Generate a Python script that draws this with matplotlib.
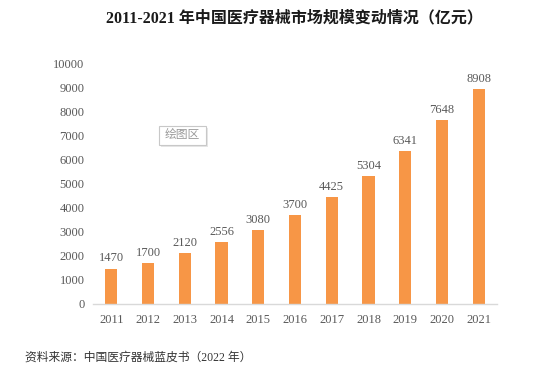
import matplotlib
matplotlib.use("Agg")
import matplotlib.pyplot as plt
from matplotlib.patches import FancyBboxPatch

plt.rcParams['font.family'] = ['Liberation Serif', 'Noto Sans CJK SC', 'DejaVu Sans']

# data
years = ['2011', '2012', '2013', '2014', '2015', '2016',
         '2017', '2018', '2019', '2020', '2021']
market_size = [1470, 1700, 2120, 2556, 3080, 3700, 4425, 5304, 6341, 7648, 8908]
y_ticks = [0, 1000, 2000, 3000, 4000, 5000, 6000, 7000, 8000, 9000, 10000]

title = '2011-2021 年中国医疗器械市场规模变动情况（亿元）'
source = '资料来源：中国医疗器械蓝皮书（2022 年）'

W, H = 534, 370
fig = plt.figure(figsize=(W / 100, H / 100), dpi=100)
ax = fig.add_axes([93 / W, (H - 304) / H, (497 - 93) / W, (304 - 63) / H])

bar_color = '#F79646'
text_gray = '#595959'

x = range(len(years))
bars = ax.bar(x, market_size, width=0.33, color=bar_color, zorder=2)

for rect, v in zip(bars, market_size):
    ax.annotate(f'{v}', (rect.get_x() + rect.get_width() / 2, rect.get_height()),
                xytext=(0, 3), textcoords='offset points',
                ha='center', va='bottom', fontsize=9, color=text_gray)

ax.set_xlim(-0.5, len(years) - 0.5)
ax.set_ylim(0, 10000)
ax.set_xticks(list(x))
ax.set_xticklabels(years)
ax.set_yticks(y_ticks)
ax.tick_params(axis='both', length=0, labelsize=9, labelcolor=text_gray)
ax.tick_params(axis='x', pad=7)
ax.tick_params(axis='y', pad=6)

for s in ['top', 'right', 'left']:
    ax.spines[s].set_visible(False)
ax.spines['bottom'].set_color('#D9D9D9')
ax.spines['bottom'].set_linewidth(1.0)

# "绘图区" hover tag left over from the chart editor
shadow = FancyBboxPatch((161 / W, 1 - 147 / H), 47 / W, 19 / H,
                        boxstyle='square,pad=0', transform=fig.transFigure,
                        facecolor='#E6E6E6', edgecolor='none', zorder=5)
box = FancyBboxPatch((159 / W, 1 - 145 / H), 47 / W, 19 / H,
                     boxstyle='square,pad=0', transform=fig.transFigure,
                     facecolor='white', edgecolor='#C8C8C8', linewidth=0.8, zorder=6)
fig.patches.extend([shadow, box])
fig.text(182.5 / W, 1 - 135.5 / H, '绘图区', ha='center', va='center',
         fontsize=8.5, color='#9A9A9A', zorder=7)

fig.text(294 / W, 1 - 18 / H, title, ha='center', va='center',
         fontsize=11.5, fontweight='bold', color='#1A1A1A')
fig.text(25 / W, 1 - 358 / H, source, ha='left', va='center',
         fontsize=8.5, color='#333333')

fig.savefig('out.png', dpi=100)
